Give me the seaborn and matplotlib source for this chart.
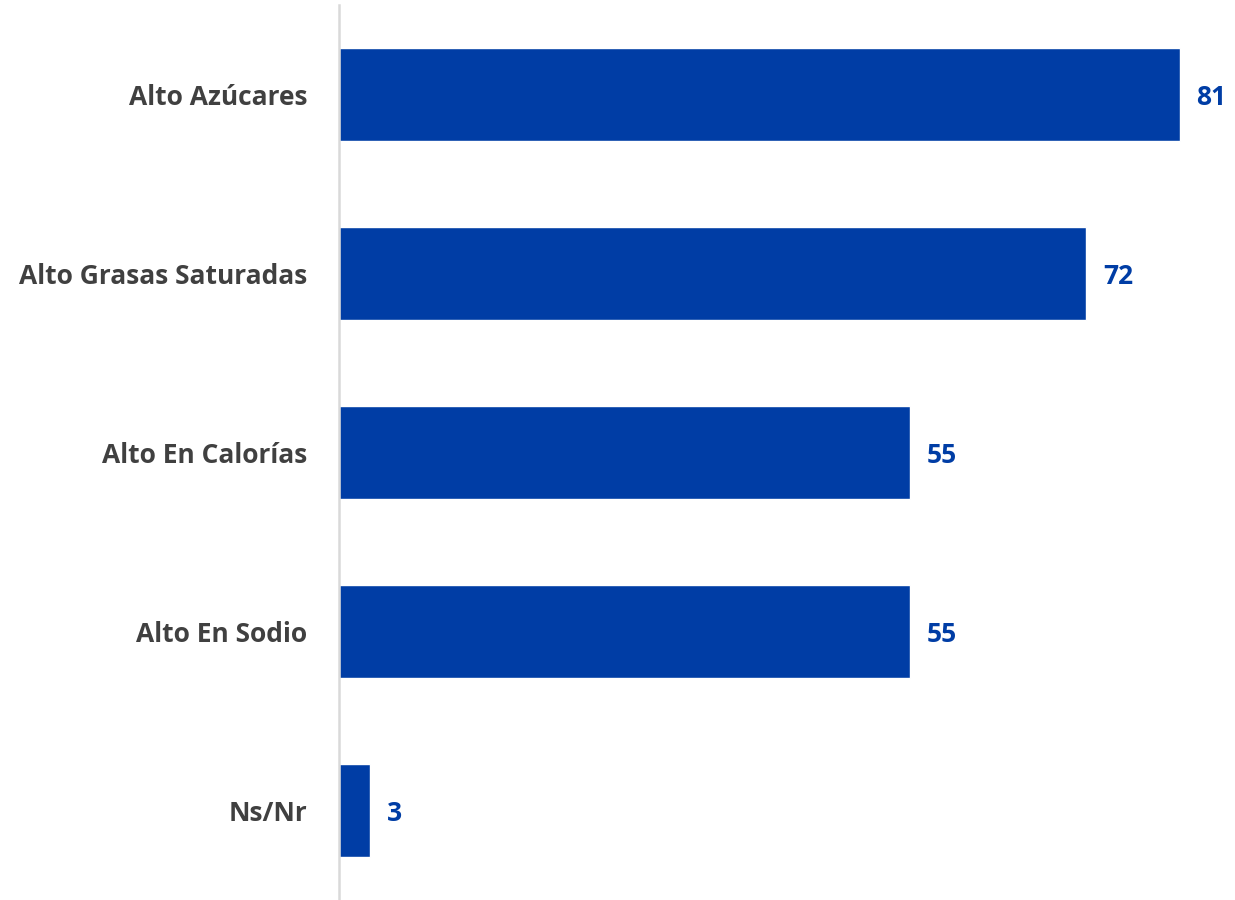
import matplotlib
matplotlib.use("Agg")
import matplotlib.pyplot as plt
import seaborn as sns
import pandas as pd

categories = ["Alto Azúcares", "Alto Grasas Saturadas", "Alto En Calorías", "Alto En Sodio", "Ns/Nr"]
values = [81, 72, 55, 55, 3]

bar_color = "#003DA5"
label_gray = "#404040"

sns.set_theme(style="white")
plt.rcParams["font.family"] = ["Open Sans", "DejaVu Sans"]

df = pd.DataFrame({"categoria": categories, "valor": values})

fig = plt.figure(figsize=(12.35, 9), dpi=100)
ax = fig.add_axes([339 / 1235, 0.0, 1 - 339 / 1235, 895 / 900])

sns.barplot(data=df, y="categoria", x="valor", orient="h", color=bar_color,
            saturation=1, width=0.52, ax=ax)

ax.set_xlim(0, (1235 - 339) / 10.38)
ax.set_ylim(4.5, -0.5)
ax.set_xlabel("")
ax.set_ylabel("")
ax.set_xticks([])

for s in ["top", "right", "bottom"]:
    ax.spines[s].set_visible(False)
ax.spines["left"].set_color("#D9D9D9")
ax.spines["left"].set_linewidth(1.8)

ax.tick_params(axis="y", length=0, pad=23)
for lbl in ax.get_yticklabels():
    lbl.set_fontsize(19)
    lbl.set_fontweight("bold")
    lbl.set_color(label_gray)

for i, v in enumerate(values):
    ax.annotate(f"{v}", xy=(v, i), xytext=(12, -2), textcoords="offset points",
                ha="left", va="center", fontsize=19, fontweight="bold",
                color=bar_color)

fig.savefig("out.png", dpi=100, facecolor="white")
